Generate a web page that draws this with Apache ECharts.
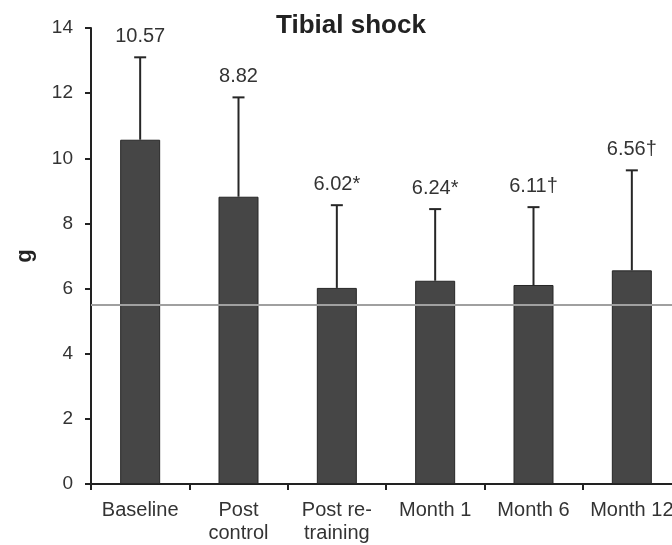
<!DOCTYPE html>
<html>
<head>
<meta charset="utf-8">
<script src="https://cdn.jsdelivr.net/npm/echarts@6/dist/echarts.min.js"></script>
<style>html,body{margin:0;padding:0;background:#fff;overflow:hidden;width:672px;height:545px}#c{width:681px;height:545px}</style>
</head>
<body>
<div id="c"></div>
<script>
var categories = ['Baseline', 'Post\ncontrol', 'Post re-\ntraining', 'Month 1', 'Month 6', 'Month 12'];
var means = [10.57, 8.82, 6.02, 6.24, 6.11, 6.56];
var upper = [13.1, 11.87, 8.56, 8.44, 8.5, 9.63];
var valueLabels = ['10.57', '8.82', '6.02*', '6.24*', '6.11\u2020', '6.56\u2020'];
var referenceValue = 5.5;
var yTicks = [0, 2, 4, 6, 8, 10, 12, 14];

var FONT = 'Liberation Sans, Arial, sans-serif';
var chart = echarts.init(document.getElementById('c'), null, {renderer: 'canvas'});

var errData = means.map(function (m, i) { return [i, m, upper[i]]; });

chart.setOption({
  animation: false,
  backgroundColor: '#fff',
  title: {
    text: 'Tibial shock',
    left: 346, top: 8,
    textAlign: 'center',
    textStyle: {fontFamily: FONT, fontWeight: 'bold', fontSize: 26, color: '#222'}
  },
  grid: {left: 91, top: 28, bottom: 61, right: 0, containLabel: false},
  xAxis: {
    type: 'category',
    data: categories,
    axisLine: {lineStyle: {color: '#222', width: 2}},
    axisTick: {show: true, length: 6, lineStyle: {color: '#222', width: 2}},
    axisLabel: {fontFamily: FONT, fontSize: 20, color: '#333', margin: 15, lineHeight: 23, interval: 0}
  },
  yAxis: {
    type: 'value',
    min: yTicks[0], max: yTicks[yTicks.length - 1], interval: 2,
    name: 'g',
    nameLocation: 'middle',
    nameGap: 55,
    nameRotate: 90,
    nameTextStyle: {fontFamily: FONT, fontWeight: 'bold', fontSize: 22, color: '#222'},
    axisLine: {show: true, lineStyle: {color: '#222', width: 2}},
    axisTick: {show: true, length: 6, lineStyle: {color: '#222', width: 2}},
    axisLabel: {fontFamily: FONT, fontSize: 19, color: '#333', margin: 18},
    splitLine: {show: false}
  },
  series: [
    {
      type: 'bar',
      data: means,
      barWidth: 40,
      itemStyle: {color: '#464646', borderColor: '#262626', borderWidth: 1},
      markLine: {
        silent: true,
        symbol: 'none',
        label: {show: false},
        lineStyle: {color: '#a0a0a0', width: 2, type: 'solid'},
        data: [{yAxis: referenceValue}]
      },
      z: 2
    },
    {
      type: 'custom',
      data: errData,
      z: 3,
      renderItem: function (params, api) {
        var i = api.value(0);
        var p0 = api.coord([i, api.value(1)]);
        var p1 = api.coord([i, api.value(2)]);
        var half = 6;
        return {
          type: 'group',
          children: [
            {type: 'line', shape: {x1: p0[0], y1: p0[1], x2: p1[0], y2: p1[1]}, style: {stroke: '#262626', lineWidth: 2}},
            {type: 'line', shape: {x1: p1[0] - half, y1: p1[1], x2: p1[0] + half, y2: p1[1]}, style: {stroke: '#262626', lineWidth: 2}},
            {type: 'text', style: {text: valueLabels[params.dataIndex], x: p1[0], y: p1[1] - 21, align: 'center', verticalAlign: 'middle', fontFamily: FONT, fontSize: 20, fill: '#333'}}
          ]
        };
      }
    }
  ]
});
</script>
</body>
</html>
